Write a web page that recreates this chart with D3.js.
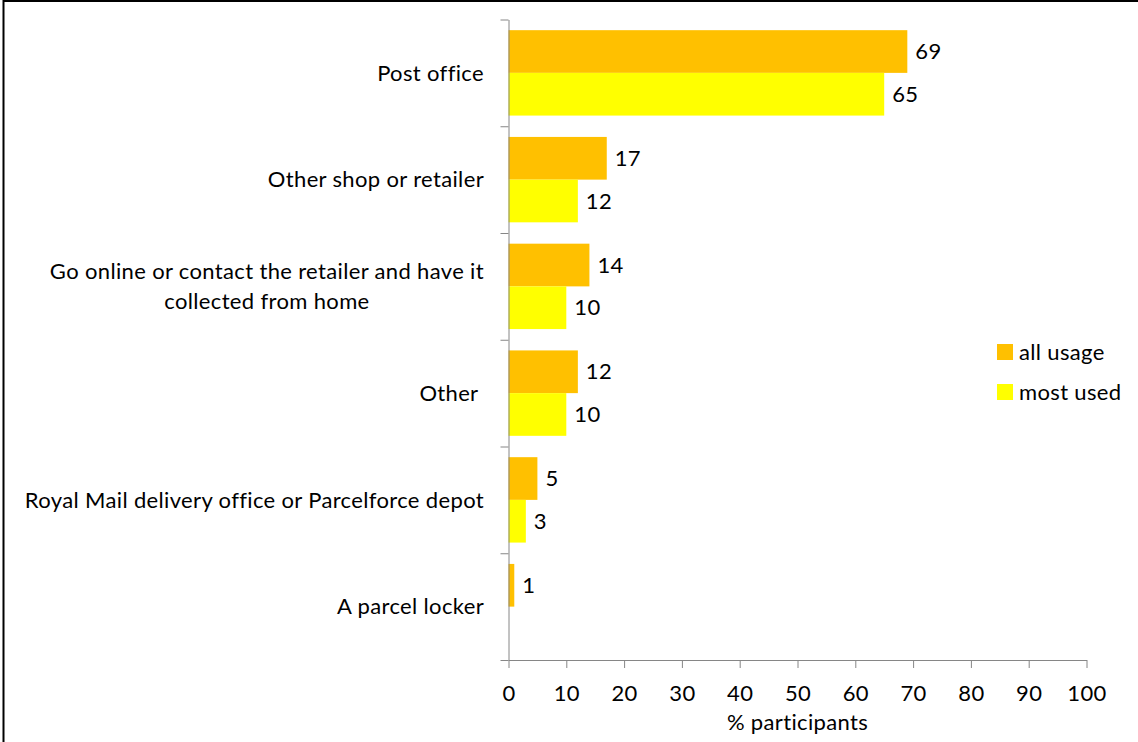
<!DOCTYPE html>
<html>
<head>
<meta charset="utf-8">
<script src="https://cdn.jsdelivr.net/npm/d3@7"></script>
<style>
  html, body { margin: 0; padding: 0; background: #fff; }
  svg { display: block; }
  text { font-family: Lato, "Open Sans", sans-serif; fill: #000; letter-spacing: 0.35px; white-space: pre; }
</style>
</head>
<body>
<svg id="chart" width="1138" height="742"></svg>
<script>
// Where participants return parcels: categories and the two series
const categories = [
  ["Post office"],
  ["Other shop or retailer"],
  ["Go online or contact the retailer and have it", "collected from home"],
  ["Other "],
  ["Royal Mail delivery office or Parcelforce depot"],
  ["A parcel locker"]
];
const seriesNames = ["all usage", "most used"];
const allUsage = [69, 17, 14, 12, 5, 1];
const mostUsed = [65, 12, 10, 10, 3, null];
const xTicks = [0, 10, 20, 30, 40, 50, 60, 70, 80, 90, 100];
const axisTitle = "% participants";
const colors = ["#FFC000", "#FFFF00"];

const FONT = 22;
const svg = d3.select("#chart");

// Outer frame
svg.append("rect")
  .attr("x", 3.5).attr("y", 1).attr("width", 1200).attr("height", 800)
  .attr("fill", "none").attr("stroke", "#000").attr("stroke-width", 2);

const plotL = 508.5, plotR = 1086.5, plotT = 19.5, plotB = 660;
const catIdx = categories.map((d, i) => i);

const x = d3.scaleLinear().domain([0, 100]).range([plotL, plotR]);
const y = d3.scaleBand().domain(catIdx).range([plotT, plotB]).padding(0);
const ySub = d3.scaleBand().domain(seriesNames).range([0, y.bandwidth()])
  .paddingInner(0).paddingOuter(0.25);

const rows = catIdx.map(i => ({ i, values: [allUsage[i], mostUsed[i]] }));

// Bars
const groups = svg.append("g").selectAll("g").data(rows).join("g")
  .attr("transform", d => `translate(0,${y(d.i)})`);

groups.selectAll("rect")
  .data(d => d.values.map((v, k) => ({ v, k })).filter(e => e.v != null))
  .join("rect")
  .attr("x", x(0))
  .attr("y", e => ySub(seriesNames[e.k]))
  .attr("width", e => x(e.v) - x(0))
  .attr("height", ySub.bandwidth())
  .attr("fill", e => colors[e.k]);

// Value labels
groups.selectAll("text.val")
  .data(d => d.values.map((v, k) => ({ v, k })).filter(e => e.v != null))
  .join("text")
  .attr("class", "val")
  .attr("x", e => x(e.v) + 8)
  .attr("y", e => ySub(seriesNames[e.k]) + ySub.bandwidth() / 2)
  .attr("dy", "0.35em")
  .attr("font-size", FONT)
  .text(e => e.v);

// Category axis: ticks on band boundaries
const yb = d3.scaleLinear().domain([0, categories.length]).range([plotT, plotB]);
const yAxis = svg.append("g")
  .attr("transform", `translate(${plotL},0)`)
  .call(d3.axisLeft(yb).ticks(categories.length).tickSize(8).tickFormat("").tickSizeOuter(0));
yAxis.select(".domain").attr("stroke", "#868686");
yAxis.selectAll(".tick line").attr("stroke", "#868686");

// Category labels (multi-line labels centred on each other, block right-aligned)
const labelG = svg.append("g");
categories.forEach((lines, i) => {
  const cy = y(i) + y.bandwidth() / 2;
  const lh = 30;
  const t = labelG.append("text").attr("font-size", FONT);
  const spans = lines.map((s, j) => t.append("tspan")
    .attr("y", cy + (j - (lines.length - 1) / 2) * lh)
    .attr("dy", "0.35em")
    .text(s));
  const widths = spans.map(s => s.node().getComputedTextLength());
  const w = d3.max(widths);
  const rightEdge = 484;
  spans.forEach(s => {
    s.attr("x", rightEdge - w / 2).attr("text-anchor", "middle");
  });
});

// Value axis
const xAxis = svg.append("g")
  .attr("transform", `translate(0,${plotB})`)
  .call(d3.axisBottom(x).tickValues(xTicks).tickSize(8).tickSizeOuter(0));
xAxis.select(".domain").attr("stroke", "#868686");
xAxis.selectAll(".tick line").attr("stroke", "#868686");
xAxis.selectAll(".tick text")
  .attr("y", 33).attr("dy", "0.35em")
  .attr("font-size", FONT)
  .attr("fill", "#000")
  .style("font-family", "Lato, 'Open Sans', sans-serif");

svg.append("text")
  .attr("x", (plotL + plotR) / 2).attr("y", 722).attr("dy", "0.35em")
  .attr("text-anchor", "middle").attr("font-size", FONT)
  .text(axisTitle);

// Legend
const legend = svg.append("g");
seriesNames.forEach((name, k) => {
  const ly = 352 + k * 40;
  legend.append("rect")
    .attr("x", 997).attr("y", ly - 8).attr("width", 16).attr("height", 16)
    .attr("fill", colors[k]);
  legend.append("text")
    .attr("x", 1019).attr("y", ly).attr("dy", "0.35em")
    .attr("font-size", FONT).text(name);
});
</script>
</body>
</html>
